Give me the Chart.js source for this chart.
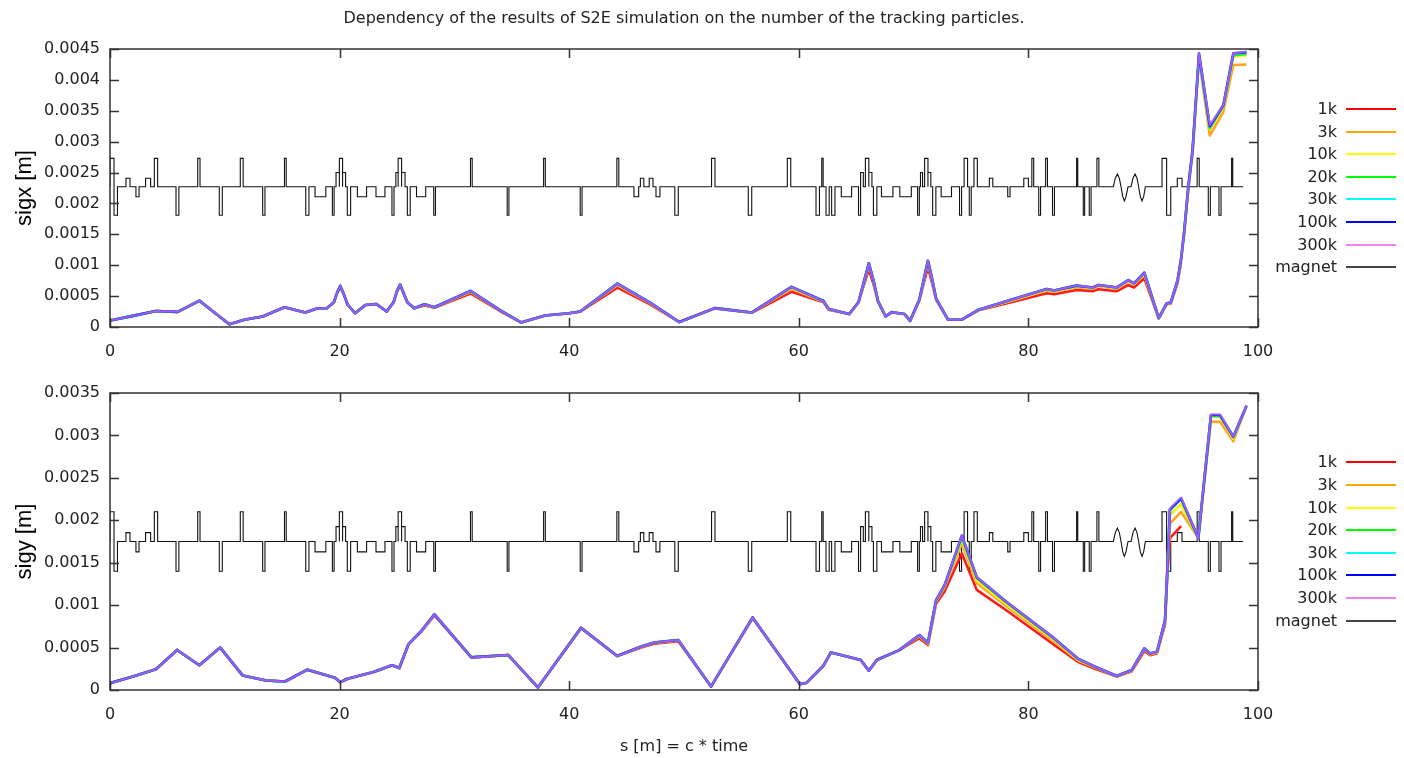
<!DOCTYPE html>
<html>
<head>
<meta charset="utf-8">
<script src="https://cdn.jsdelivr.net/npm/chart.js@4.4.1/dist/chart.umd.min.js"></script>
<style>
  html, body { margin: 0; padding: 0; background: #fff; }
  #wrap { position: relative; width: 1404px; height: 758px; }
  canvas { position: absolute; left: 0; }
</style>
</head>
<body>
<div id="wrap">
  <canvas id="sigxChart" width="1404" height="365" style="top:0"></canvas>
  <canvas id="sigyChart" width="1404" height="393" style="top:365px"></canvas>
</div>
<script>
// Beam sizes are listed in units of 0.1 mm.
const UNIT = 1e-4;

const runLabels = ['1k', '3k', '10k', '20k', '30k', '100k', '300k'];

// ---- horizontal beam size ----
const sigxS = [0, 2, 4.0, 5.9, 7.8, 9.2, 10.4, 11.7, 13.3, 15.2, 17.0, 18.1, 18.9, 19.5, 19.8, 20.06, 20.35, 20.7, 21.35, 22.25,
  23.2, 24.1, 24.7, 25.0, 25.27, 25.55, 25.9, 26.5, 27.4, 28.26, 31.4, 34.0, 35.8, 37.9, 40.0, 40.96, 44.2, 47.0, 49.6, 52.67,
  55.9, 59.36, 62.15, 62.6, 64.4, 65.2, 65.7, 66.1, 66.5, 66.9, 67.56, 68.1, 69.2, 69.7, 70.5, 70.9, 71.25, 71.6, 71.96, 73.0,
  74.2, 75.66, 78.5, 81.6, 82.25, 84.2, 85.6, 86.1, 87.7, 88.7, 89.2, 90.1, 91.35, 92.06, 92.4, 93.0, 93.3, 93.58, 93.93, 94.3,
  94.86, 95.8, 96.98, 97.85, 99.0];

const sigx1k = [1.06, 1.8, 2.6, 2.45, 4.26, 2.2, 0.45, 1.17, 1.7, 3.19,
  2.34, 3.03, 3.03, 4.0, 5.6, 6.5, 5.4, 3.6, 2.23, 3.56,
  3.72, 2.5, 4.0, 5.8, 6.7, 5.6, 4.0, 3.03, 3.5, 3.1,
  5.43, 2.55, 0.74, 1.86, 2.23, 2.5, 6.38, 3.7, 0.8, 3.0,
  2.3, 5.7, 4.0, 2.8, 2.1, 4.0, 7.0, 9.3, 7.0, 4.1,
  1.7, 2.4, 2.1, 1.0, 4.3, 7.2, 9.6, 7.2, 4.4, 1.18,
  1.18, 2.7, 4.0, 5.45, 5.3, 6.0, 5.8, 6.1, 5.8, 6.8,
  6.4, 7.9, 1.4, 3.7, 3.8, 7.2, 10.5];

const sigx3k = [1.06, 1.8, 2.6, 2.45, 4.26, 2.2, 0.45, 1.17, 1.7, 3.19,
  2.34, 3.03, 3.03, 4.0, 5.6, 6.6, 5.4, 3.6, 2.23, 3.56,
  3.72, 2.5, 4.0, 5.8, 6.8, 5.6, 4.0, 3.03, 3.62, 3.15,
  5.7, 2.65, 0.74, 1.86, 2.23, 2.5, 6.8, 3.9, 0.8, 3.05,
  2.35, 6.2, 4.1, 2.85, 2.1, 4.0, 7.4, 10.0, 7.5, 4.2,
  1.7, 2.4, 2.1, 1.0, 4.4, 7.7, 10.4, 7.7, 4.5, 1.18,
  1.18, 2.75, 4.25, 5.9, 5.7, 6.45, 6.2, 6.6, 6.2, 7.35,
  6.9, 8.5, 1.44, 3.8, 3.9, 7.5, 10.8, 15.3, 22.3, 28.1,
  43.5, 31.0, 34.8, 42.4, 42.5];

const sigx10k = [1.06, 1.8, 2.6, 2.45, 4.26, 2.2, 0.45, 1.17, 1.7, 3.19,
  2.34, 3.03, 3.03, 4.0, 5.6, 6.62, 5.4, 3.6, 2.23, 3.56,
  3.72, 2.5, 4.0, 5.8, 6.83, 5.6, 4.0, 3.03, 3.65, 3.17,
  5.75, 2.68, 0.74, 1.86, 2.23, 2.5, 6.9, 3.95, 0.8, 3.05,
  2.35, 6.35, 4.15, 2.9, 2.1, 4.0, 7.45, 10.1, 7.55, 4.2,
  1.7, 2.4, 2.1, 1.0, 4.4, 7.75, 10.5, 7.8, 4.55, 1.18,
  1.18, 2.78, 4.3, 6.0, 5.8, 6.55, 6.3, 6.7, 6.3, 7.45,
  6.95, 8.6, 1.44, 3.82, 3.93, 7.55, 10.9, 15.5, 22.5, 28.4,
  43.8, 32.0, 35.6, 43.8, 44.0];

const sigx20k = [1.06, 1.8, 2.6, 2.45, 4.26, 2.2, 0.45, 1.17, 1.7, 3.19,
  2.34, 3.03, 3.03, 4.0, 5.6, 6.65, 5.4, 3.6, 2.23, 3.56,
  3.72, 2.5, 4.0, 5.8, 6.86, 5.6, 4.0, 3.03, 3.67, 3.19,
  5.85, 2.7, 0.74, 1.86, 2.23, 2.5, 7.02, 4.0, 0.8, 3.05,
  2.35, 6.5, 4.2, 2.9, 2.1, 4.0, 7.5, 10.3, 7.6, 4.2,
  1.7, 2.4, 2.1, 1.0, 4.4, 7.8, 10.7, 7.9, 4.6, 1.18,
  1.18, 2.8, 4.4, 6.15, 5.9, 6.7, 6.4, 6.8, 6.4, 7.6,
  7.06, 8.8, 1.44, 3.85, 3.96, 7.6, 11.0, 15.6, 22.7, 28.6,
  43.9, 32.2, 35.8, 44.0, 44.2];

const sigx30k = [1.06, 1.8, 2.6, 2.45, 4.26, 2.2, 0.45, 1.17, 1.7, 3.19,
  2.34, 3.03, 3.03, 4.0, 5.6, 6.65, 5.4, 3.6, 2.23, 3.56,
  3.72, 2.5, 4.0, 5.8, 6.86, 5.6, 4.0, 3.03, 3.67, 3.19,
  5.85, 2.7, 0.74, 1.86, 2.23, 2.5, 7.02, 4.0, 0.8, 3.05,
  2.35, 6.5, 4.2, 2.9, 2.1, 4.0, 7.5, 10.3, 7.6, 4.2,
  1.7, 2.4, 2.1, 1.0, 4.4, 7.8, 10.7, 7.9, 4.6, 1.18,
  1.18, 2.8, 4.4, 6.15, 5.9, 6.7, 6.4, 6.8, 6.4, 7.6,
  7.06, 8.8, 1.44, 3.85, 3.96, 7.6, 11.0, 15.6, 22.7, 28.6,
  44.1, 32.4, 35.9, 44.2, 44.4];

const sigx100k = [1.06, 1.8, 2.6, 2.45, 4.26, 2.2, 0.45, 1.17, 1.7, 3.19,
  2.34, 3.03, 3.03, 4.0, 5.6, 6.65, 5.4, 3.6, 2.23, 3.56,
  3.72, 2.5, 4.0, 5.8, 6.86, 5.6, 4.0, 3.03, 3.67, 3.19,
  5.85, 2.7, 0.74, 1.86, 2.23, 2.5, 7.02, 4.0, 0.8, 3.05,
  2.35, 6.5, 4.2, 2.9, 2.1, 4.0, 7.5, 10.3, 7.6, 4.2,
  1.7, 2.4, 2.1, 1.0, 4.4, 7.8, 10.7, 7.9, 4.6, 1.18,
  1.18, 2.8, 4.4, 6.15, 5.9, 6.7, 6.4, 6.8, 6.4, 7.6,
  7.06, 8.8, 1.44, 3.85, 3.96, 7.6, 11.0, 15.6, 22.7, 28.6,
  44.3, 32.5, 35.9, 44.3, 44.5];

const sigx300k = [1.06, 1.8, 2.6, 2.45, 4.26, 2.2, 0.45, 1.17, 1.7, 3.19,
  2.34, 3.03, 3.03, 4.0, 5.6, 6.65, 5.4, 3.6, 2.23, 3.56,
  3.72, 2.5, 4.0, 5.8, 6.86, 5.6, 4.0, 3.03, 3.67, 3.19,
  5.85, 2.7, 0.74, 1.86, 2.23, 2.5, 7.02, 4.0, 0.8, 3.05,
  2.35, 6.5, 4.2, 2.9, 2.1, 4.0, 7.5, 10.3, 7.6, 4.2,
  1.7, 2.4, 2.1, 1.0, 4.4, 7.8, 10.7, 7.9, 4.6, 1.18,
  1.18, 2.8, 4.4, 6.15, 5.9, 6.7, 6.4, 6.8, 6.4, 7.6,
  7.06, 8.8, 1.44, 3.85, 3.96, 7.6, 11.0, 15.6, 22.7, 28.6,
  44.3, 32.7, 35.9, 44.3, 44.6];

// ---- vertical beam size ----
const sigyS = [0, 2, 4.0, 5.85, 7.78, 9.6, 11.55, 13.6, 15.25, 17.2, 19.6, 20.06, 20.7, 22.96, 24.56, 25.2, 26.0, 27.1, 28.26, 31.48,
  34.7, 37.27, 41.03, 44.18, 46.27, 47.4, 49.5, 52.35, 55.98, 60.1, 60.7, 62.15, 62.8, 65.4, 66.1, 66.8, 68.75, 70.5, 71.25, 71.96,
  72.7, 74.2, 75.5, 78.07, 82.25, 84.3, 85.8, 87.7, 89.0, 90.1, 90.6, 91.2, 91.9, 92.1, 92.33, 93.3, 94.8, 95.9, 96.7, 97.85,
  99.0];

const sigy1k = [0.8, 1.6, 2.44, 4.72, 2.92, 5.0, 1.72, 1.12, 1.0, 2.4,
  1.44, 0.92, 1.32, 2.12, 2.92, 2.6, 5.4, 6.85, 8.8, 3.84,
  4.12, 0.3, 7.32, 4.0, 5.0, 5.45, 5.75, 0.4, 8.45, 0.67,
  0.86, 2.86, 4.43, 3.53, 2.27, 3.53, 4.7, 6.1, 5.3, 10.2,
  11.6, 16.1, 11.8, 9.4, 5.3, 3.33, 2.5, 1.6, 2.2, 4.6,
  4.1, 4.3, 7.7, 13.5, 17.9, 19.3];

const sigy3k = [0.8, 1.6, 2.44, 4.72, 2.92, 5.0, 1.72, 1.12, 1.0, 2.4,
  1.44, 0.92, 1.32, 2.12, 2.92, 2.6, 5.4, 6.9, 8.9, 3.84,
  4.12, 0.3, 7.32, 4.0, 5.08, 5.55, 5.85, 0.4, 8.52, 0.67,
  0.86, 2.86, 4.43, 3.53, 2.27, 3.53, 4.7, 6.35, 5.45, 10.45,
  12.1, 17.25, 12.6, 9.9, 5.7, 3.5, 2.65, 1.62, 2.3, 4.8,
  4.2, 4.4, 8.0, 13.9, 19.6, 21.0, 17.9, 31.6, 31.6, 29.3,
  33.5];

const sigy10k = [0.8, 1.6, 2.44, 4.72, 2.92, 5.0, 1.72, 1.12, 1.0, 2.4,
  1.44, 0.92, 1.32, 2.12, 2.92, 2.6, 5.4, 6.92, 8.92, 3.84,
  4.12, 0.3, 7.32, 4.0, 5.12, 5.6, 5.9, 0.4, 8.55, 0.67,
  0.86, 2.86, 4.43, 3.53, 2.27, 3.53, 4.7, 6.4, 5.5, 10.5,
  12.2, 17.7, 12.9, 10.1, 5.9, 3.6, 2.7, 1.65, 2.33, 4.85,
  4.25, 4.45, 8.1, 14.0, 20.6, 21.9, 17.9, 32.2, 32.2, 29.6,
  33.5];

const sigy20k = [0.8, 1.6, 2.44, 4.72, 2.92, 5.0, 1.72, 1.12, 1.0, 2.4,
  1.44, 0.92, 1.32, 2.12, 2.92, 2.6, 5.4, 6.92, 8.92, 3.84,
  4.12, 0.3, 7.32, 4.0, 5.12, 5.6, 5.9, 0.4, 8.55, 0.67,
  0.86, 2.86, 4.43, 3.53, 2.27, 3.53, 4.7, 6.45, 5.55, 10.6,
  12.3, 18.0, 13.2, 10.35, 6.05, 3.7, 2.74, 1.65, 2.35, 4.9,
  4.3, 4.5, 8.2, 14.1, 21.2, 22.5, 17.9, 32.3, 32.3, 29.8,
  33.5];

const sigy30k = [0.8, 1.6, 2.44, 4.72, 2.92, 5.0, 1.72, 1.12, 1.0, 2.4,
  1.44, 0.92, 1.32, 2.12, 2.92, 2.6, 5.4, 6.92, 8.92, 3.84,
  4.12, 0.3, 7.32, 4.0, 5.12, 5.6, 5.9, 0.4, 8.55, 0.67,
  0.86, 2.86, 4.43, 3.53, 2.27, 3.53, 4.7, 6.47, 5.57, 10.6,
  12.35, 18.1, 13.3, 10.4, 6.08, 3.7, 2.74, 1.65, 2.35, 4.9,
  4.3, 4.5, 8.2, 14.1, 21.3, 22.6, 17.9, 32.4, 32.4, 29.85,
  33.5];

const sigy100k = [0.8, 1.6, 2.44, 4.72, 2.92, 5.0, 1.72, 1.12, 1.0, 2.4,
  1.44, 0.92, 1.32, 2.12, 2.92, 2.6, 5.4, 6.92, 8.92, 3.84,
  4.12, 0.3, 7.32, 4.0, 5.12, 5.6, 5.9, 0.4, 8.55, 0.67,
  0.86, 2.86, 4.43, 3.53, 2.27, 3.53, 4.7, 6.47, 5.57, 10.6,
  12.35, 18.2, 13.3, 10.4, 6.08, 3.7, 2.74, 1.65, 2.35, 4.9,
  4.3, 4.5, 8.2, 14.1, 21.3, 22.6, 17.9, 32.4, 32.4, 29.85,
  33.5];

const sigy300k = [0.8, 1.6, 2.44, 4.72, 2.92, 5.0, 1.72, 1.12, 1.0, 2.4,
  1.44, 0.92, 1.32, 2.12, 2.92, 2.6, 5.4, 6.92, 8.92, 3.84,
  4.12, 0.3, 7.32, 4.0, 5.12, 5.6, 5.9, 0.4, 8.55, 0.67,
  0.86, 2.86, 4.43, 3.53, 2.27, 3.53, 4.7, 6.47, 5.57, 10.6,
  12.35, 18.2, 13.3, 10.4, 6.08, 3.7, 2.74, 1.65, 2.35, 4.9,
  4.3, 4.5, 8.2, 14.1, 21.4, 22.7, 17.9, 32.5, 32.5, 29.85,
  33.5];

// ---- lattice: element start / end [m] and relative strength (+ focusing, - defocusing) ----
const magStart = [0.0, 0.35, 1.39, 2.26, 3.1, 3.86, 5.75, 7.64, 9.52, 11.35, 13.3, 15.2, 17.05, 17.86, 19.37, 19.69, 19.98, 20.26, 20.67, 21.55,
  23.17, 24.56, 24.9, 25.1, 25.4, 25.9, 26.7, 28.2, 31.4, 34.6, 37.77, 40.96, 44.15, 45.64, 46.2, 46.97, 47.56, 49.2, 52.4, 55.6,
  59.0, 61.5, 62.0, 62.37, 62.86, 63.7, 65.2, 65.4, 65.8, 66.1, 66.5, 67.2, 68.8, 70.35, 70.6, 70.96, 71.25, 71.66, 72.4, 74.0,
  74.4, 74.85, 75.26, 76.6, 78.2, 79.6, 80.3, 80.9, 81.5, 82.1, 84.2, 84.78, 85.3, 85.97, 91.64, 92.04, 92.97, 94.7, 95.67, 96.6,
  97.7];
const magEnd = [0.35, 0.65, 1.74, 2.53, 3.54, 4.15, 6.0, 7.84, 9.78, 11.6, 13.5, 15.35, 17.33, 18.8, 19.52, 19.98, 20.26, 20.52, 20.96, 22.35,
  23.95, 24.74, 25.1, 25.4, 25.7, 26.15, 27.5, 28.35, 31.55, 34.75, 37.92, 41.12, 44.32, 46.05, 46.5, 47.3, 47.9, 49.5, 52.7, 55.9,
  59.3, 61.8, 62.12, 62.65, 63.15, 64.6, 65.35, 65.62, 66.1, 66.37, 66.8, 68.2, 69.8, 70.5, 70.78, 71.25, 71.5, 71.94, 73.3, 74.18,
  74.7, 75.02, 75.55, 76.9, 78.4, 80.0, 80.46, 81.06, 81.66, 82.27, 84.3, 84.9, 85.46, 86.14, 92.04, 92.4, 93.38, 94.88, 95.85, 96.78,
  97.8];
const magKick = [1, -1, 0.3, -0.35, 0.3, 1, -1, 1, -1, 1, -1, 1, -1, -0.35, -1, 0.5, 1, 0.5, -1, -0.35,
  -0.35, -1, 0.5, 1, 0.5, -1, -0.35, -1, 1, -1, 1, -1, 1, -0.35, 0.3, 0.3, -0.35, -1, 1, -1,
  1, -1, 1, -1, -1, -0.35, -1, 0.5, 1, 0.5, -1, -0.35, -0.35, -1, 0.5, 1, 0.5, -1, -0.35, -1,
  1, -1, 1, 0.3, -0.35, 0.3, 1, -1, 1, -1, 1, -1, -1, 1, 1, -1, 0.3, 1, -1, -1,
  1];
// undulator section
const wigS = [87.4, 87.57, 87.75, 87.92, 88.07, 88.22, 88.36, 88.5, 88.68, 88.94, 89.11, 89.29, 89.46, 89.6, 89.75, 89.9, 90.04, 90.19];
const wigK = [0, 0.3, 0.45, 0.3, 0, -0.35, -0.5, -0.35, 0, 0, 0.3, 0.45, 0.3, 0, -0.35, -0.5, -0.35, 0];
const latticeEnd = 98.7;

// ---- axes ----
const xTickVals = [0, 20, 40, 60, 80, 100];
const xTickLabels = ['0', '20', '40', '60', '80', '100'];
const sigxTickVals = [0, 0.0005, 0.001, 0.0015, 0.002, 0.0025, 0.003, 0.0035, 0.004, 0.0045];
const sigxTickLabels = ['0', '0.0005', '0.001', '0.0015', '0.002', '0.0025', '0.003', '0.0035', '0.004', '0.0045'];
const sigyTickVals = [0, 0.0005, 0.001, 0.0015, 0.002, 0.0025, 0.003, 0.0035];
const sigyTickLabels = ['0', '0.0005', '0.001', '0.0015', '0.002', '0.0025', '0.003', '0.0035'];

// ---------------------------------------------------------------
const TEXT = '#222';
const FONT = 'DejaVu Sans';
Chart.defaults.font.family = FONT;
Chart.defaults.font.size = 16;
Chart.defaults.color = TEXT;

const runColors = ['#ff0000', '#ffa500', '#ffff00', '#00ff00', '#00ffff', '#0000ff', '#ee82ee'];
const runLine = ['#ff1a1a', '#ffa41c', '#f5f500', '#10ee10', '#20f0f0', '#2020ff', 'rgba(238,130,238,0.62)'];

function points(s, v) {
  return v.map((val, i) => ({ x: s[i], y: val * UNIT }));
}

// Lattice drawn as a step outline around a baseline.
function magnetPoints(base, amp) {
  const pts = [{ x: 0, y: base }];
  let wigDone = false;
  for (let i = 0; i < magStart.length; i++) {
    if (!wigDone && magStart[i] > wigS[0]) {
      wigS.forEach((s, j) => pts.push({ x: s, y: base + wigK[j] * amp }));
      wigDone = true;
    }
    const top = base + magKick[i] * amp;
    pts.push({ x: magStart[i], y: base }, { x: magStart[i], y: top },
             { x: magEnd[i], y: top }, { x: magEnd[i], y: base });
  }
  pts.push({ x: latticeEnd, y: base });
  return pts;
}

// Border with inward tick marks on all four sides.
const framePlugin = {
  id: 'frame',
  afterDatasetsDraw(chart) {
    const { ctx, chartArea: a, scales: { x, y } } = chart;
    ctx.save();
    ctx.strokeStyle = '#333';
    ctx.lineWidth = 1.5;
    ctx.beginPath();
    x.ticks.forEach(t => {
      const px = Math.round(x.getPixelForValue(t.value)) + 0.5;
      ctx.moveTo(px, a.bottom); ctx.lineTo(px, a.bottom - 9);
      ctx.moveTo(px, a.top); ctx.lineTo(px, a.top + 9);
    });
    y.ticks.forEach(t => {
      const py = Math.round(y.getPixelForValue(t.value)) + 0.5;
      ctx.moveTo(a.left, py); ctx.lineTo(a.left + 9, py);
      ctx.moveTo(a.right, py); ctx.lineTo(a.right - 9, py);
    });
    ctx.stroke();
    ctx.strokeRect(a.left, a.top, a.right - a.left, a.bottom - a.top);
    ctx.restore();
  }
};

// Key at the right, vertically centred on the plot.
const keyPlugin = {
  id: 'sideKey',
  afterDraw(chart) {
    const { ctx, chartArea: a } = chart;
    const ds = chart.data.datasets;
    const rowH = 22.6;
    const y0 = (a.top + a.bottom) / 2 - rowH * (ds.length - 1) / 2;
    ctx.save();
    ctx.font = '16px "' + FONT + '"';
    ctx.textAlign = 'right';
    ctx.textBaseline = 'middle';
    ds.forEach((d, i) => {
      const y = Math.round(y0 + i * rowH);
      ctx.fillStyle = TEXT;
      ctx.fillText(d.label, a.right + 79, y + 1);
      ctx.strokeStyle = d.keyColor;
      ctx.lineWidth = 2;
      ctx.beginPath();
      ctx.moveTo(a.right + 88, y);
      ctx.lineTo(a.right + 138, y);
      ctx.stroke();
    });
    ctx.restore();
  }
};

function buildDatasets(s, series, sizeBase, sizeAmp) {
  const sets = series.map((v, i) => ({
    label: runLabels[i],
    data: points(s, v),
    borderColor: runLine[i],
    keyColor: runColors[i],
    borderWidth: i === 6 ? 2 : 2.6,
    order: 7 - i,
    pointRadius: 0,
    tension: 0,
    borderJoinStyle: 'round'
  }));
  sets.push({
    label: 'magnet',
    data: magnetPoints(sizeBase, sizeAmp),
    borderColor: '#111',
    keyColor: '#444',
    borderWidth: 1.1,
    order: 8,
    pointRadius: 0,
    tension: 0
  });
  return sets;
}

function makeChart(id, cfg) {
  return new Chart(document.getElementById(id), {
    type: 'line',
    data: { datasets: cfg.datasets },
    options: {
      responsive: false,
      animation: false,
      events: [],
      layout: { padding: cfg.padding },
      plugins: {
        legend: { display: false },
        tooltip: { enabled: false },
        title: cfg.title
      },
      scales: {
        x: {
          type: 'linear', min: 0, max: 100,
          grid: { display: false, drawTicks: false },
          border: { display: false },
          afterBuildTicks: sc => { sc.ticks = xTickVals.map(v => ({ value: v })); },
          afterFit: sc => { sc.height = cfg.xHeight; },
          ticks: { padding: 15, maxRotation: 0, callback: (v, i) => xTickLabels[i] },
          title: cfg.xTitle
        },
        y: {
          type: 'linear', min: 0, max: cfg.yMax,
          grid: { display: false, drawTicks: false },
          border: { display: false },
          afterBuildTicks: sc => { sc.ticks = cfg.yTickVals.map(v => ({ value: v })); },
          afterFit: sc => { sc.width = 110; },
          ticks: { padding: 10, callback: (v, i) => cfg.yTickLabels[i] },
          title: {
            display: true, text: cfg.yTitle, color: '#000',
            font: { family: 'Liberation Sans', size: 22 },
            padding: { top: 12, bottom: 0 }
          }
        }
      }
    },
    plugins: [framePlugin, keyPlugin]
  });
}

makeChart('sigxChart', {
  datasets: buildDatasets(sigxS, [sigx1k, sigx3k, sigx10k, sigx20k, sigx30k, sigx100k, sigx300k], 0.00227, 0.00046),
  padding: { left: 0, right: 146, top: 0, bottom: 0 },
  title: {
    display: true, fullSize: false,
    text: 'Dependency of the results of S2E simulation on the number of the tracking particles.',
    color: TEXT, font: { family: FONT, size: 16, weight: 'normal' },
    padding: { top: 9.5, bottom: 20.3 }
  },
  xHeight: 38,
  xTitle: { display: false },
  yMax: 0.0045, yTickVals: sigxTickVals, yTickLabels: sigxTickLabels,
  yTitle: 'sigx [m]'
});

makeChart('sigyChart', {
  datasets: buildDatasets(sigyS, [sigy1k, sigy3k, sigy10k, sigy20k, sigy30k, sigy100k, sigy300k], 0.00175, 0.00035),
  padding: { left: 0, right: 146, top: 28, bottom: 0 },
  title: { display: false },
  xHeight: 68,
  xTitle: {
    display: true, text: 's [m] = c * time', color: TEXT,
    font: { family: FONT, size: 16 },
    padding: { top: 0, bottom: 2 }
  },
  yMax: 0.0035, yTickVals: sigyTickVals, yTickLabels: sigyTickLabels,
  yTitle: 'sigy [m]'
});
</script>
</body>
</html>
